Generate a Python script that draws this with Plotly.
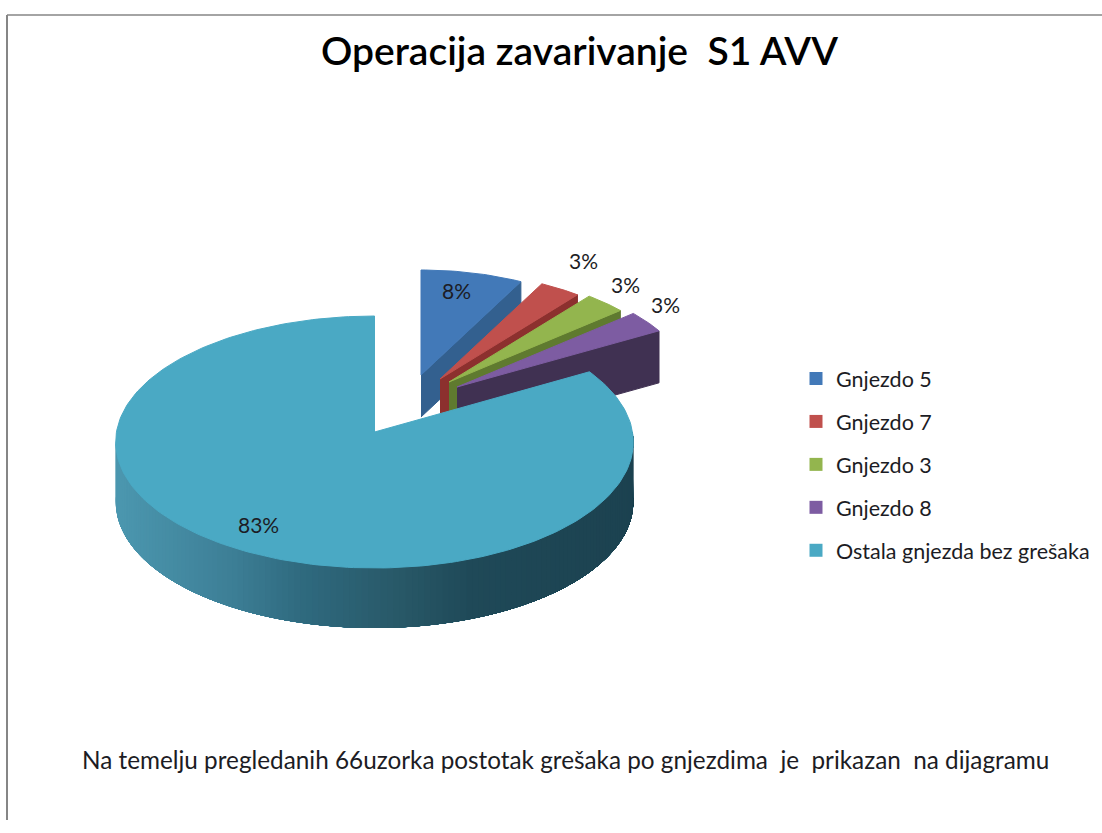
import numpy as np
import plotly.graph_objects as go

# ---- data ----
categories = ["Gnjezdo 5", "Gnjezdo 7", "Gnjezdo 3", "Gnjezdo 8", "Ostala gnjezda bez grešaka"]
counts = [5, 2, 2, 2, 55]   # faulty samples per nest, out of 66 inspected

TITLE = "Operacija zavarivanje\u00a0 S1 AVV"
CAPTION = "Na temelju pregledanih 66uzorka postotak grešaka po gnjezdima\u00a0 je\u00a0 prikazan\u00a0 na dijagramu"

# ---- styling / layout constants ----
top_colors = ["#4279b8", "#c0504d", "#93b54e", "#7d5ca2", "#4aa9c4"]
side_colors = ["#33608f", "#8c302e", "#5f7a2f", "#403152", "#1f4858"]
FONT = "Lato"
TXT = "#1c1c24"
W, H = 1102, 833

# main (teal) slice: perspective projected disc
X0, Y0, R, A, B, DEPTH = 374.5, 432, 258, 125.2, 0.0794, 60
# exploded slices: apex pixel, scale, wall depth
exploded = [(421, 375, 1.00, 42), (440, 379, 1.02, 45), (449, 382, 1.04, 50), (457, 387, 1.07, 52)]
RS, RV = 218, 105
# rim shading stops
grad_x = [115, 230, 300, 400, 470, 632]
grad_rgb = np.array([[76, 152, 176], [61, 127, 150], [47, 106, 127], [40, 88, 103], [31, 73, 88], [28, 66, 80]])

total = sum(counts)
shares = np.array(counts) / total
edges = np.concatenate([[0], np.cumsum(shares)]) * 2 * np.pi
pct = [f"{round(100 * s)}%" for s in shares]


def main_xy(t):
    u, v = np.sin(t), np.cos(t)
    d = 1 + B * v
    return X0 + R * u / d, Y0 - A * v / d


def rgb(c):
    return "rgb(%d,%d,%d)" % tuple(int(round(x)) for x in c)


fig = go.Figure()


def poly(x, y, color, line=True):
    fig.add_trace(go.Scatter(
        x=list(x), y=list(y), mode="lines", fill="toself", fillcolor=color,
        line=dict(color=color, width=1 if line else 0), hoverinfo="skip", showlegend=False))


# exploded slices, back to front
for i, (ax, ay, sc, dep) in enumerate(exploded):
    t = np.linspace(edges[i], edges[i + 1], 24)
    px = ax + RS * sc * np.sin(t)
    py = ay - RV * sc * np.cos(t)
    poly([ax, px[-1], px[-1], ax], [ay, py[-1], py[-1] + dep, ay + dep], side_colors[i])
    poly(np.r_[ax, px, ax], np.r_[ay, py, ay], top_colors[i])

# main slice rim with horizontal shading; every band runs on to the right edge,
# so each later band simply paints over the previous one (no seams)
rim_edges = np.linspace(3 * np.pi / 2, np.pi / 2, 141)
for a in rim_edges[:-1]:
    t = np.linspace(a, np.pi / 2, 60)
    x, y = main_xy(t)
    col = [np.interp(x[0] + 2, grad_x, grad_rgb[:, k]) for k in range(3)]
    poly(np.r_[x, x[::-1]], np.r_[y, y[::-1] + DEPTH], rgb(col), line=False)

# main slice top face
t = np.linspace(edges[4], edges[5], 240)
x, y = main_xy(t)
poly(np.r_[X0, x, X0], np.r_[Y0, y, Y0], top_colors[4])

# data labels
label_x = [456, 583, 625, 665, 258]
label_y = [290, 260, 284, 304, 524]
label_notes = [
    dict(x=lx, y=ly, xref="x", yref="y", text=p, showarrow=False,
         font=dict(family=FONT, size=21, color=TXT))
    for lx, ly, p in zip(label_x, label_y, pct)
]

# legend entries
for i, name in enumerate(categories):
    fig.add_trace(go.Scatter(
        x=[None], y=[None], mode="markers", name=name, legendgroup=name,
        marker=dict(symbol="square", size=13, color=top_colors[i])))

fig.update_layout(
    width=W, height=H, margin=dict(l=0, r=0, t=0, b=0),
    paper_bgcolor="white", plot_bgcolor="white",
    xaxis=dict(range=[0, W], visible=False, fixedrange=True),
    yaxis=dict(range=[H, 0], visible=False, fixedrange=True),
    legend=dict(x=796 / W, y=1 - 358 / H, xanchor="left", yanchor="top",
                tracegroupgap=12, bgcolor="rgba(0,0,0,0)",
                font=dict(family=FONT, size=21.5, color=TXT)),
    shapes=[
        dict(type="line", xref="x", yref="y", x0=7, x1=W, y0=15, y1=15,
             line=dict(color="#868686", width=1.5)),
        dict(type="line", xref="x", yref="y", x0=7, x1=7, y0=15, y1=820,
             line=dict(color="#868686", width=2)),
    ],
    annotations=label_notes + [
        dict(x=579, y=50, xref="x", yref="y", text=TITLE, showarrow=False,
             font=dict(family=FONT, size=39, color="#000000", weight=600)),
        dict(x=565, y=759, xref="x", yref="y", text=CAPTION, showarrow=False,
             font=dict(family=FONT, size=24.3, color=TXT)),
    ],
)

fig.write_html("out.html", config={"displayModeBar": False},
               post_script="document.body.style.margin='0';")
